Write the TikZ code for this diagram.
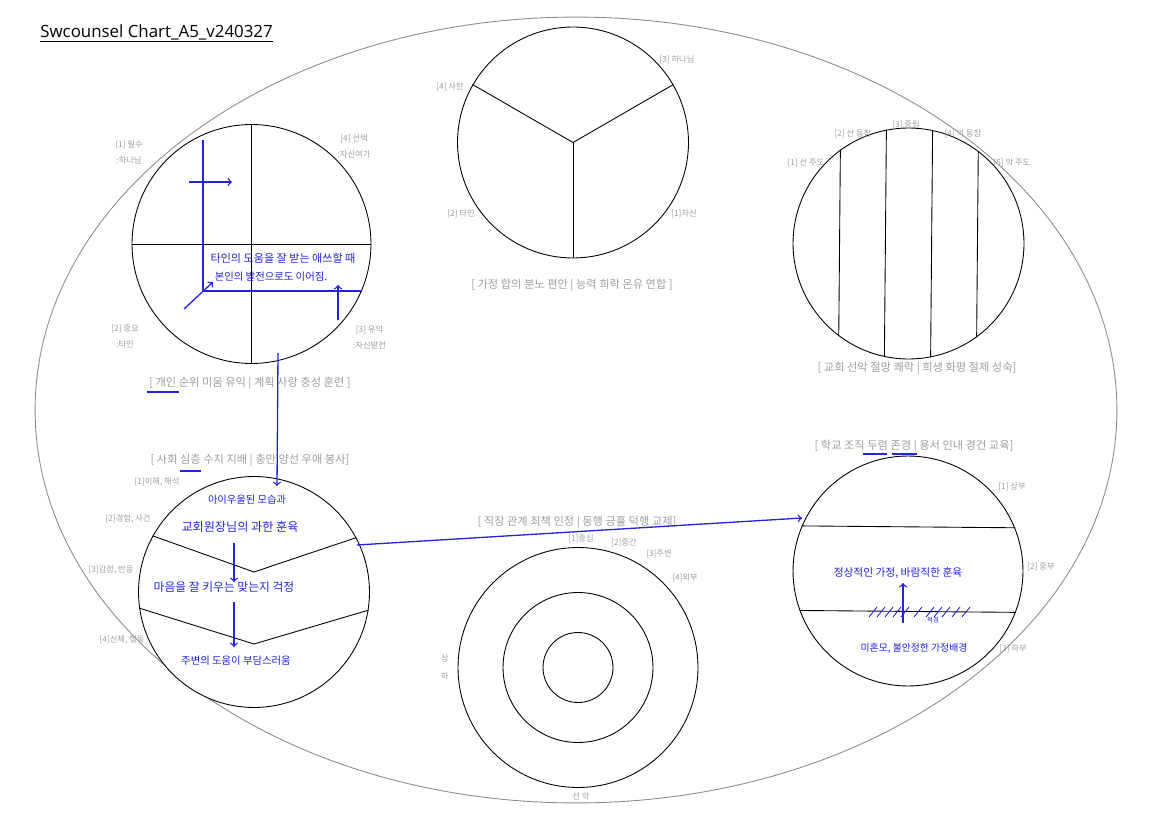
\documentclass[tikz,border=0pt]{standalone}
\usepackage{xcolor}
\usepackage{fontspec}
\usepackage{tikz}
\usetikzlibrary{shapes.geometric, arrows, positioning}
\newfontfamily\cjk{Noto Sans CJK KR}
\newfontfamily\titlefont{Open Sans}

\begin{document}
\begin{tikzpicture}[x=0.02cm, y=-0.02cm, font=\cjk,
  ring/.style={circle, draw=black, fill=white, line width=0.5pt, inner sep=0pt, minimum size=#1},
  tag/.style={text=labelgray, font=\cjk\fontsize{4.7}{9.2}\selectfont, align=center, inner sep=0pt},
  caption/.style={text=labelgray, font=\cjk\fontsize{6.4}{7}\selectfont, inner sep=0pt},
  pen/.style={draw=penblue, line width=0.75pt},
  hand/.style={text=penblue, font=\cjk\fontsize{#1}{#1}\selectfont, inner sep=0pt},
  hand/.default=5.6]
  \definecolor{labelgray}{HTML}{9E9E9E}
  \definecolor{ovalgray}{HTML}{8C8C8C}
  \definecolor{penblue}{HTML}{2424D8}

  \useasboundingbox (0,0) rectangle (1152,814);

  \node[anchor=base west, inner sep=0pt, font=\titlefont\fontsize{9.6}{11}\selectfont] (title) at (40,38) {Swcounsel Chart\_A5\_v240327};
  \draw[line width=0.5pt] ([yshift=-2pt]title.base west) -- ([yshift=-2pt]title.base east);

  \draw[draw=ovalgray, line width=0.5pt] (576,410) ellipse [x radius=10.82cm, y radius=7.86cm];

  \node[ring=4.78cm] (indiv) at (251.5,244) {};
  \draw[line width=0.5pt] (indiv.north) -- (indiv.south);
  \draw[line width=0.5pt] (indiv.west) -- (indiv.east);
  \node[tag] (indiv1) at (129,152) {[1] 필수\\:하나님};
  \node[tag] (indiv4) at (354,146) {[4] 선택\\:자신여가};
  \node[tag] (indiv2) at (125,336.5) {[2] 중요\\:타인};
  \node[tag] (indiv3) at (369.5,337.5) {[3] 유익\\:자신발전};
  \node[caption] (indivcap) at (250,383) {[ 개인 순위 미움 유익 | 계획 사랑 충성 훈련 ]};

  \node[ring=4.62cm] (family) at (573,142.5) {};
  \draw[line width=0.5pt] (family.30) -- (family.center) -- (family.150);
  \draw[line width=0.5pt] (family.center) -- (family.270);
  \node[tag] (family3) at (677,60) {[3] 하나님};
  \node[tag] (family4) at (450,87) {[4] 사탄};
  \node[tag] (family2) at (461,214) {[2] 타인};
  \node[tag] (family1) at (684,214) {[1]자신};
  \node[caption] (familycap) at (572,285) {[ 가정 합의 분노 편안 | 능력 희락 온유 연합 ]};

  \node[ring=4.62cm] (church) at (908.5,243.5) {};
  \foreach \a/\b in {53.13/306.87, 78.46/281.54, 101.54/258.46, 126.87/233.13}
    \draw[line width=0.5pt] (church.\a) -- (church.\b);
  \node[tag] (church1) at (806,163) {[1] 선 주도};
  \node[tag] (church2) at (853,134) {[2] 선 동참};
  \node[tag] (church3) at (906,125) {[3] 중립};
  \node[tag] (church4) at (963,134) {[4] 악 동참};
  \node[tag] (church5) at (1012,163) {[5] 악 주도};
  \node[caption] (churchcap) at (917,368) {[ 교회 선악 절망 쾌락 | 희생 화평 절제 성숙]};

  \node[caption] (societycap) at (250,460) {[ 사회 심층 수치 지배 | 충만 양선 우애 봉사]};
  \node[ring=4.62cm] (society) at (254,592) {};
  \coordinate (fold1) at (254,572);
  \coordinate (fold2) at (254,644);
  \draw[line width=0.5pt] (society.151.6) -- (fold1) -- (society.28.4);
  \draw[line width=0.5pt] (society.188.5) -- (fold2) -- (society.351.5);
  \node[tag] (society1) at (157,482) {[1]이해, 해석};
  \node[tag] (society2) at (128,519) {[2]경험, 사건};
  \node[tag] (society3) at (111,570) {[3]감정, 반응};
  \node[tag] (society4) at (122,640) {[4]신체, 행동};

  \node[caption] (workcap) at (577,522) {[ 직장 관계 죄책 인정 | 동행 긍휼 덕행 교제]};
  \node[ring=4.8cm] (work) at (578,667.5) {};
  \node[ring=3.0cm] (workmid) at (578,667.5) {};
  \node[ring=1.4cm] (workin) at (578,667.5) {};
  \node[tag] (work1) at (581,539) {[1]중심};
  \node[tag] (work2) at (624,543) {[2]중간};
  \node[tag] (work3) at (659,554) {[3]주변};
  \node[tag] (work4) at (685,578) {[4]외부};
  \node[tag] (up) at (445,658) {상};
  \node[tag] (down) at (445,676) {하};
  \node[tag] (goodevil) at (581,796) {선 악};

  \node[caption] (schoolcap) at (914,446) {[ 학교 조직 두렴 존경 | 용서 인내 경건 교육]};
  \node[ring=4.6cm] (school) at (908,571) {};
  \draw[line width=0.5pt] (school.157.5) -- (school.22.5);
  \draw[line width=0.5pt] (school.200.9) -- (school.339.1);
  \node[tag] (school1) at (1012,487) {[1] 상부};
  \node[tag] (school2) at (1041,567) {[2] 중부};
  \node[tag] (school3) at (1013,649) {[3] 하부};

  \draw[pen] (203,140) -- (203,291) -- (362,291);
  \draw[pen, ->] (189,182) -- (232,182);
  \draw[pen, ->] (184,309) -- (213,282);
  \draw[pen, ->] (338,320) -- (338,285);
  \node[hand=6.3] (note1) at (283,258) {타인의 도움을 잘 받는 애쓰할 때};
  \node[hand=5.9] (note2) at (271,277) {본인의 발전으로도 이어짐.};

  \coordinate (drop1) at (278,353);
  \coordinate (drop2) at (277,486);
  \draw[pen, ->] (drop1) -- (drop2);

  \draw[pen] (147,392) -- (179,392);
  \draw[pen] (180,471) -- (201,471);
  \draw[pen] (863,454) -- (887,454);
  \draw[pen] (892,454) -- (917,454);

  \node[hand=5.85] (note3) at (247,500) {아이우울된 모습과};
  \node[hand=6.9] (note4) at (240,527) {교회원장님의 과한 훈육};
  \node[hand=6.7] (note5) at (224,587) {마음을 잘 키우는 맞는지 걱정};
  \node[hand=5.9] (note6) at (236,661) {주변의 도움이 부담스러움};
  \draw[pen, ->] (234,543) -- (234,582);
  \draw[pen, ->] (234,602) -- (234,647);

  \coordinate (cross1) at (357,545);
  \coordinate (cross2) at (802,518);
  \draw[pen, ->] (cross1) -- (cross2);

  \node[hand=6.1] (note7) at (898,573) {정상적인 가정, 바람직한 훈육};
  \node[hand=5.6] (note8) at (914,648) {미혼모, 불안정한 가정배경};
  \draw[pen, ->] (903,623) -- (903,583);
  \foreach \x in {873,881,889,897,905,918,930,938,946,956,966}
    \draw[pen, line width=0.5pt] (\x-4,617) -- (\x+4,607);
  \node[hand=3.6] (note9) at (933,620) {척경};
\end{tikzpicture}
\end{document}
